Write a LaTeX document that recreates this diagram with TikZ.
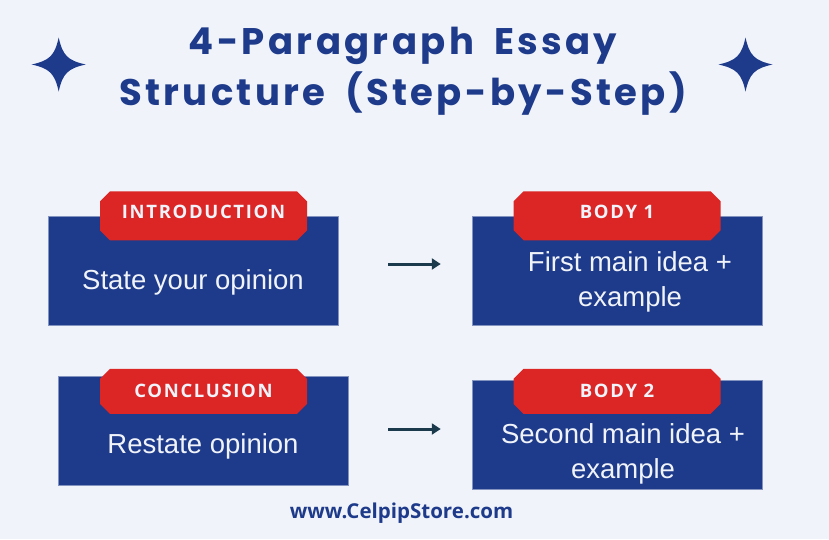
\documentclass[tikz,border=0pt]{standalone}
\usepackage{fontspec}
\setmainfont{Liberation Sans}
\newfontfamily\titlefont{Poppins}[LetterSpace=9, WordSpace=1.8]
\newfontfamily\tagfont{Open Sans}[LetterSpace=9]
\newfontfamily\webfont{Open Sans}
\usepackage{xcolor}
\usetikzlibrary{arrows.meta, shapes.misc, positioning}

\definecolor{pagebg}{HTML}{F0F4FA}
\definecolor{navy}{HTML}{1E3A8A}
\definecolor{tagred}{HTML}{DC2626}
\definecolor{arrowink}{HTML}{1B3A4B}

\begin{document}
\begin{tikzpicture}[
		x=1pt, y=-1pt,
		panel/.style={fill=navy, draw=navy!55!white, line width=0.5pt,
			minimum width=290pt, minimum height=109pt, inner sep=0pt},
		tag/.style={chamfered rectangle, chamfered rectangle xsep=5pt,
			chamfered rectangle ysep=5pt, fill=tagred, text=pagebg,
			minimum width=207pt, minimum height=45pt, inner sep=0pt,
			font=\tagfont\bfseries\fontsize{18.5}{20}\selectfont},
		blurb/.style={text=pagebg, align=center,
			font=\fontsize{27.5}{35}\selectfont},
		flow/.style={draw=arrowink, line width=3pt,
			-{Triangle[length=9pt, width=11pt]}},
		sparkle/.pic={
			\fill[navy] (0,-27) .. controls (4,-9) and (9,-4) .. (27,0)
			.. controls (9,4) and (4,9) .. (0,27)
			.. controls (-4,9) and (-9,4) .. (-27,0)
			.. controls (-9,-4) and (-4,-9) .. cycle;
		}
		]
		
		% ==========================================
		% PAGE AND TITLE
		% ==========================================
		\fill[pagebg] (0,0) rectangle (829,539);
		\useasboundingbox (0,0) rectangle (829,539);
		
		\node[text=navy, align=center, font=\titlefont\bfseries\fontsize{37}{51}\selectfont]
		(title) at (403,71) {4-Paragraph Essay\\Structure (Step-by-Step)};
		
		\pic at (58.7,64.5) {sparkle};
		\pic at (745.5,64.5) {sparkle};
		
		% ==========================================
		% PANELS
		% ==========================================
		\node[panel] (intro) at (193,270.5) {};
		\node[panel] (body1) at (617,270.5) {};
		\node[panel] (concl) at (203,430.5) {};
		\node[panel] (body2) at (617,434.5) {};
		
		% ==========================================
		% RED TAGS
		% ==========================================
		\node[tag, minimum height=49pt, text depth=7pt] (introtag)
		at ([xshift=10.5pt]intro.north) {INTRODUCTION};
		\node[tag, minimum height=49pt, text depth=7pt] (body1tag)
		at (body1.north) {BODY 1};
		\node[tag] (concltag) at ([xshift=0.5pt, yshift=-15.5pt]concl.north) {CONCLUSION};
		\node[tag] (body2tag) at ([yshift=-11.5pt]body2.north) {BODY 2};
		
		% ==========================================
		% PANEL TEXT
		% ==========================================
		\node[blurb] (introtxt) at ([yshift=-11.5pt]intro.center) {State your opinion};
		\node[blurb] (body1txt) at ([xshift=13pt, yshift=-11.5pt]body1.center) {First main idea +\\example};
		\node[blurb] (concltxt) at ([yshift=-15.5pt]concl.center) {Restate opinion};
		\node[blurb] (body2txt) at ([xshift=6pt, yshift=-19.5pt]body2.center) {Second main idea +\\example};
		
		% Arrows
		\draw[flow, shorten <=50pt, shorten >=31pt]
		([yshift=6.5pt]intro.east) -- ([yshift=6.5pt]body1.west);
		\draw[flow, shorten <=40pt, shorten >=31pt]
		([yshift=1.5pt]concl.east) -- ([yshift=5.5pt]body2.west);
		
		% Footer
		\node[text=navy, anchor=base, font=\webfont\bfseries\fontsize{20.5}{22}\selectfont]
		(site) at (401.5,518) {www.CelpipStore.com};
		
	\end{tikzpicture}
\end{document}
